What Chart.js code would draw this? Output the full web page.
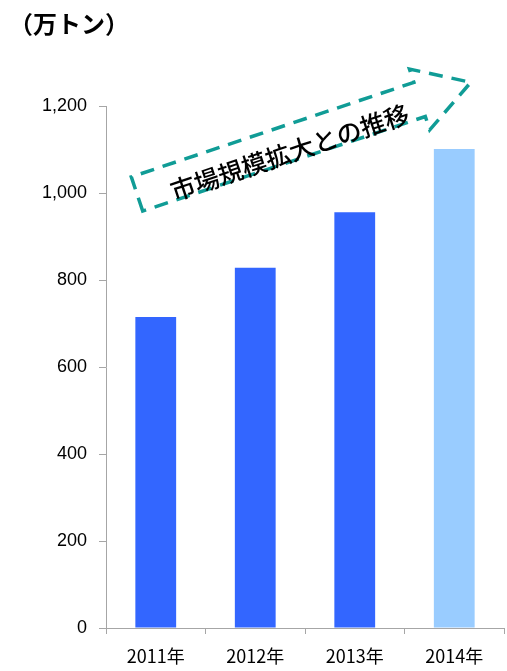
<!DOCTYPE html>
<html lang="ja">
<head>
<meta charset="UTF-8">
<title>市場規模拡大との推移</title>
<script src="https://cdn.jsdelivr.net/npm/chart.js"></script>
<style>
  body { margin: 0; background: #fff; }
  #wrap { width: 507px; height: 671px; }
</style>
</head>
<body>
<div id="wrap"><canvas id="marketChart"></canvas></div>
<script>
// data
const years = ['2011年', '2012年', '2013年', '2014年'];
const volumes = [715, 828, 956, 1101];   // 万トン
const barColors = ['#3366FF', '#3366FF', '#3366FF', '#99CCFF'];
const yMax = 1200;
const yStep = 200;
const unitLabel = '（万トン）';
const arrowLabel = '市場規模拡大との推移';

const axisGray = '#A6A6A6';
const jpFont = '"Noto Sans CJK JP", "Noto Sans", sans-serif';

// unit label + dashed arrow with the caption
const decorations = {
    id: 'decorations',
    afterDraw(chart) {
        const ctx = chart.ctx;
        ctx.save();
        ctx.fillStyle = '#000';
        ctx.font = 'bold 24px ' + jpFont;
        ctx.textBaseline = 'middle';
        ctx.textAlign = 'left';
        ctx.fillText(unitLabel, 9, 24);

        // arrow runs along an angle, drawn in its own rotated frame
        const ox = 137, oy = 194;
        const ang = -18.5 * Math.PI / 180;
        const bodyLen = 298, half = 18, headHalf = 32, headLen = 54;
        ctx.translate(ox, oy);
        ctx.rotate(ang);
        ctx.strokeStyle = '#109C96';
        ctx.lineWidth = 3.5;
        ctx.setLineDash([14, 9]);
        ctx.beginPath();
        ctx.moveTo(0, half);
        ctx.lineTo(0, -half);
        ctx.lineTo(bodyLen, -half);
        ctx.lineTo(bodyLen, -headHalf);
        ctx.lineTo(bodyLen + headLen, 0);
        ctx.lineTo(bodyLen, headHalf);
        ctx.lineTo(bodyLen, half);
        ctx.closePath();
        ctx.stroke();

        ctx.setLineDash([]);
        ctx.font = '500 25px ' + jpFont;
        ctx.textAlign = 'center';
        ctx.fillText(arrowLabel, 158, 9);
        ctx.restore();
    }
};

new Chart(document.getElementById('marketChart'), {
    type: 'bar',
    data: {
        labels: years,
        datasets: [{
            data: volumes,
            backgroundColor: barColors,
            borderWidth: 0,
            categoryPercentage: 1,
            barPercentage: 0.41
        }]
    },
    options: {
        responsive: true,
        maintainAspectRatio: false,
        animation: false,
        layout: { padding: { top: 106, right: 3, left: 0, bottom: 0 } },
        plugins: {
            legend: { display: false },
            tooltip: { enabled: false }
        },
        scales: {
            x: {
                grid: { offset: true, drawOnChartArea: false, color: axisGray, tickLength: 6 },
                border: { color: axisGray },
                ticks: { color: '#000', padding: 11, font: { size: 18, family: jpFont } },
                afterFit(s) { s.height = 43; }
            },
            y: {
                min: 0,
                max: yMax,
                grid: { drawOnChartArea: false, color: axisGray, tickLength: 7 },
                border: { color: axisGray },
                ticks: {
                    stepSize: yStep,
                    color: '#000',
                    padding: 12,
                    font: { size: 18, family: '"Liberation Sans", sans-serif' },
                    callback: v => v.toLocaleString('en-US')
                },
                afterFit(s) { s.width = 106; }
            }
        }
    },
    plugins: [decorations]
});
</script>
</body>
</html>
